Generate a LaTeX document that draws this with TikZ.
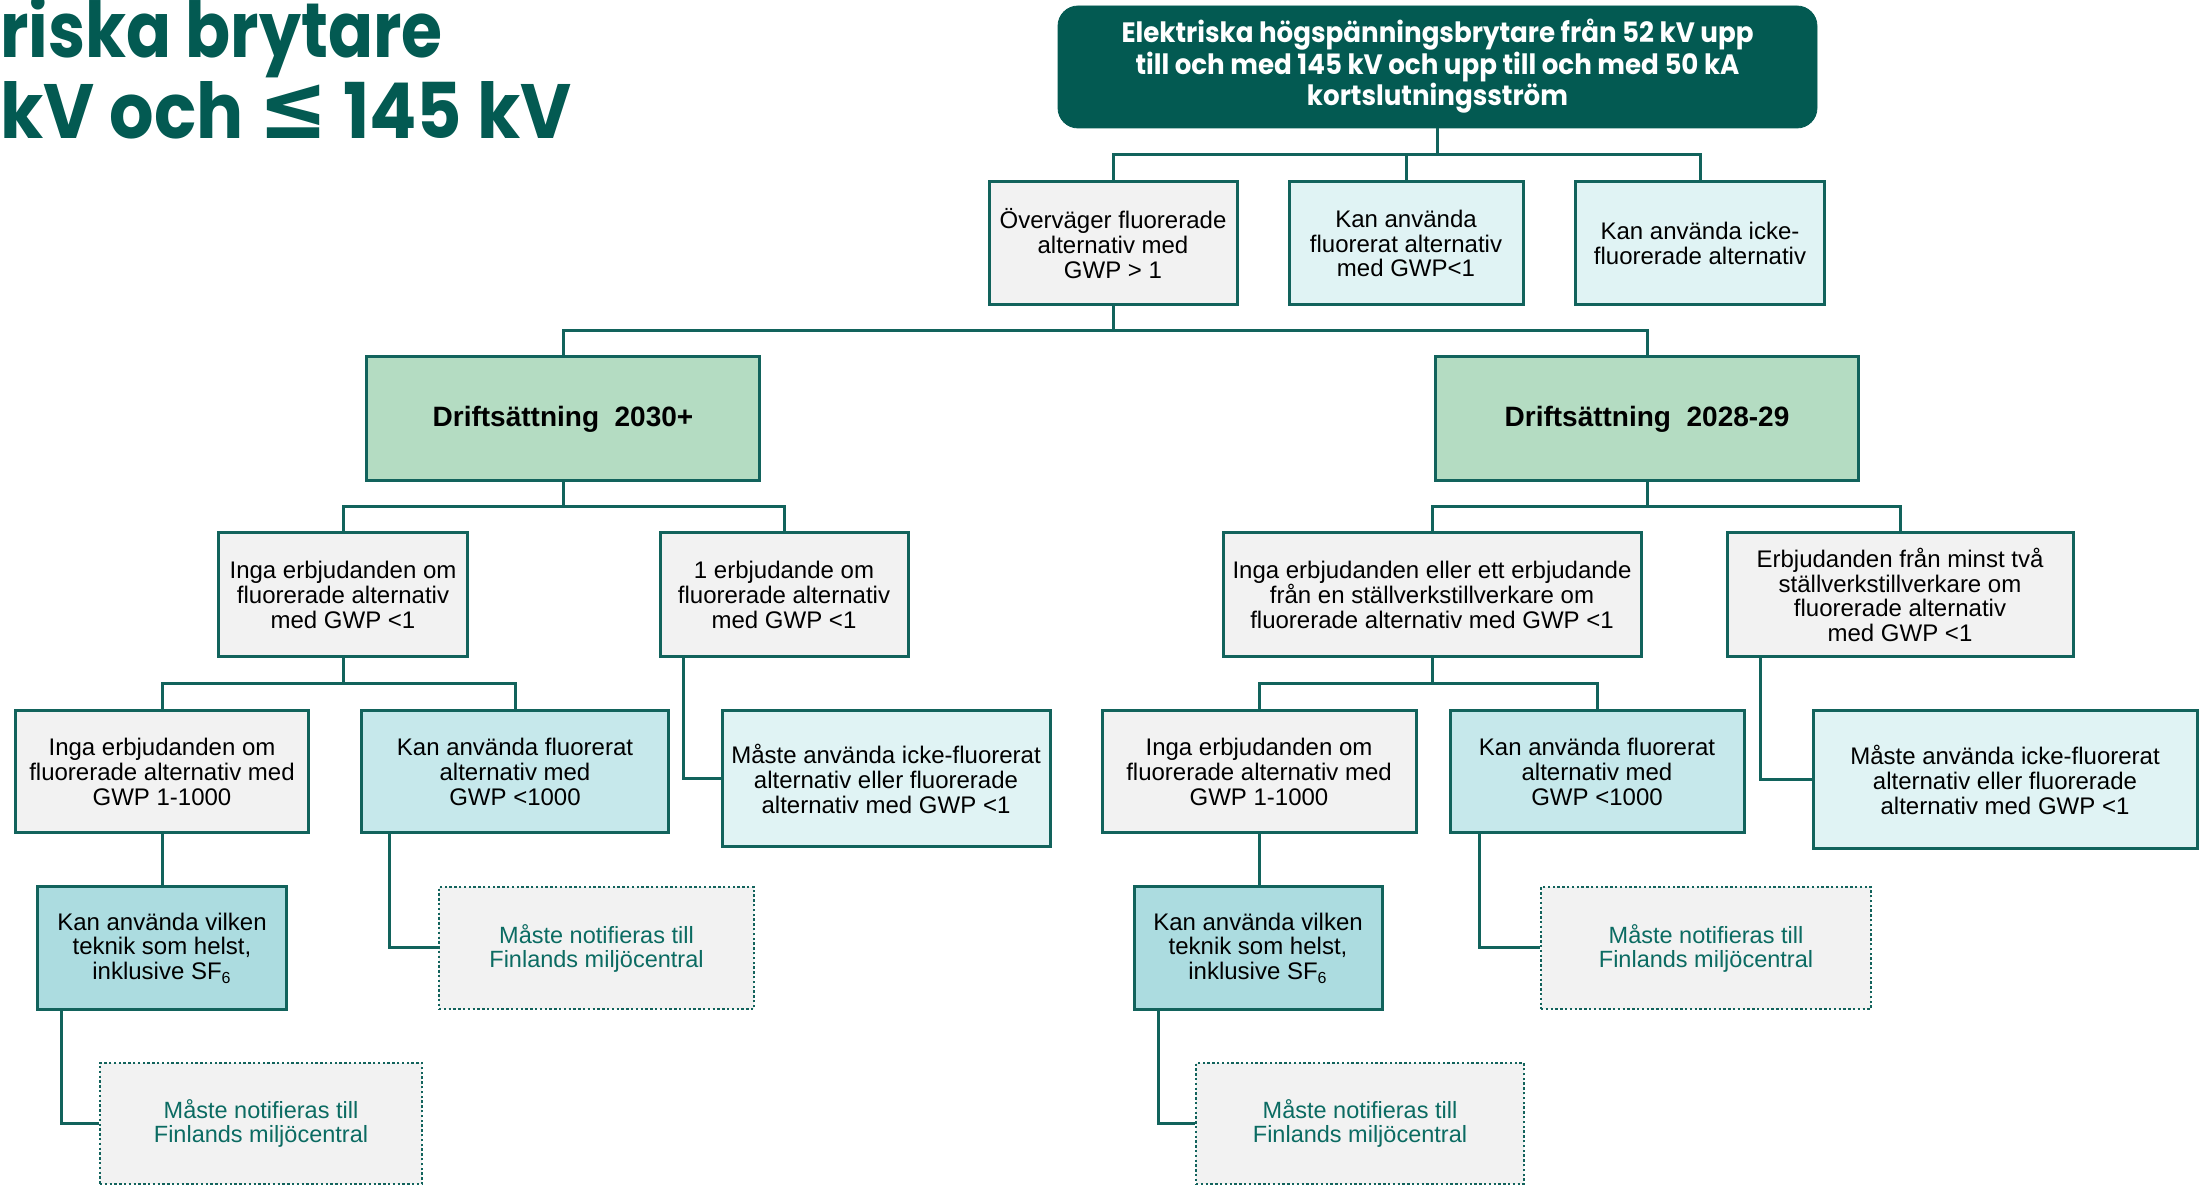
\documentclass[tikz,border=0pt]{standalone}
\usepackage{fontspec}
\usepackage{graphicx}
\setmainfont{Liberation Sans}
\newfontfamily\gothic{Poppins}
\newfontfamily\dejavu{DejaVu Sans}
\usetikzlibrary{calc}
\definecolor{tealdark}{HTML}{035A52}
\definecolor{lineteal}{HTML}{12635C}
\definecolor{greyfill}{HTML}{F2F2F2}
\definecolor{cyanlight}{HTML}{E0F3F4}
\definecolor{cyanmid}{HTML}{C6E8EB}
\definecolor{cyanstrong}{HTML}{ACDCE0}
\definecolor{greenfill}{HTML}{B4DCC2}
\definecolor{notetext}{HTML}{0B6B62}
\begin{document}
\begin{tikzpicture}[x=0.5pt,y=-0.5pt,
  box/.style={rectangle, draw=lineteal, line width=1.5pt, inner sep=0pt, align=center, font=\fontsize{12}{12.3}\selectfont, text=black},
  greybox/.style={box, fill=greyfill},
  lcbox/.style={box, fill=cyanlight},
  mcbox/.style={box, fill=cyanmid},
  scbox/.style={box, fill=cyanstrong},
  phasebox/.style={box, fill=greenfill, font=\fontsize{14}{16}\selectfont\bfseries},
  notebox/.style={rectangle, draw=lineteal, line width=1.2pt, dash pattern=on 1.2pt off 1.2pt, fill=greyfill, inner sep=0pt, align=center, text=notetext, font=\fontsize{11.75}{12}\selectfont},
  conn/.style={draw=lineteal, line width=1.5pt}
]
\useasboundingbox (0,0) rectangle (2207,1186);
\clip (0,0) rectangle (2207,1186);
\fill[white] (0,0) rectangle (2207,1186);

% title (one node, two lines; base anchor = last line)
\node[anchor=base west, inner sep=0pt, text=tealdark, align=left, font=\fontsize{38.5}{40.5}\selectfont] (title) at (0,139)
  {\resizebox{221pt}{\height}{\gothic\bfseries riska brytare}\\
   \resizebox{285.5pt}{\height}{\gothic\bfseries kV och {\dejavu\bfseries\fontsize{46}{46}\selectfont ≤} 145 kV}};

% top box
\node[rectangle, rounded corners=10pt, fill=tealdark, draw=tealdark, minimum width=379.5pt, minimum height=61pt, inner sep=0pt, text=white] (top) at (1437.5,67)
  {\raisebox{-2.5pt}{\resizebox{316pt}{\height}{\gothic\bfseries\fontsize{14}{15.5}\selectfont\begin{tabular}{@{}c@{}}Elektriska högspänningsbrytare från 52 kV upp\\till och med 145 kV och upp till och med 50 kA\\kortslutningsström\end{tabular}}}};

% level 2
\node[greybox, minimum width=124pt, minimum height=61.5pt] (A) at (1113,243.5) {Överväger fluorerade\\alternativ med\\GWP > 1};
\node[lcbox, minimum width=117pt, minimum height=61.5pt] (B) at (1406,243.5) {Kan använda\\fluorerat alternativ\\med GWP<1};
\node[lcbox, minimum width=124.5pt, minimum height=61.5pt] (C) at (1700,243.5) {Kan använda icke-\\fluorerade alternativ};

% level 3
\node[phasebox, minimum width=196.5pt, minimum height=62pt] (D) at (563,419) {Driftsättning\ \ 2030+};
\node[phasebox, minimum width=211.5pt, minimum height=62pt] (E) at (1647,419) {Driftsättning\ \ 2028-29};

% level 4
\node[greybox, minimum width=124.5pt, minimum height=62pt] (F) at (343,595) {Inga erbjudanden om\\fluorerade alternativ\\med GWP <1};
\node[greybox, minimum width=124pt, minimum height=62pt] (G) at (784,595) {1 erbjudande om\\fluorerade alternativ\\med GWP <1};
\node[greybox, minimum width=209pt, minimum height=62pt] (H) at (1432,595) {Inga erbjudanden eller ett erbjudande\\från en ställverkstillverkare om\\fluorerade alternativ med GWP <1};
\node[greybox, minimum width=173pt, minimum height=62pt] (I) at (1900,595) {Erbjudanden från minst två\\ställverkstillverkare om\\fluorerade alternativ\\med GWP <1};

% level 5
\node[greybox, minimum width=146.5pt, minimum height=61pt] (J) at (162,772) {Inga erbjudanden om\\fluorerade alternativ med\\GWP 1-1000};
\node[mcbox, minimum width=153.5pt, minimum height=61pt] (K) at (515,772) {Kan använda fluorerat\\alternativ med\\GWP <1000};
\node[lcbox, minimum width=164pt, minimum height=68pt] (L) at (886,779) {Måste använda icke-fluorerat\\alternativ eller fluorerade\\alternativ med GWP <1};
\node[greybox, minimum width=157pt, minimum height=61pt] (M) at (1259,772) {Inga erbjudanden om\\fluorerade alternativ med\\GWP 1-1000};
\node[mcbox, minimum width=147pt, minimum height=61pt] (N) at (1597,772) {Kan använda fluorerat\\alternativ med\\GWP <1000};
\node[lcbox, minimum width=192pt, minimum height=69pt] (O) at (2005,780) {Måste använda icke-fluorerat\\alternativ eller fluorerade\\alternativ med GWP <1};

% level 6
\node[scbox, minimum width=124.5pt, minimum height=61pt] (P) at (162,948) {Kan använda vilken\\teknik som helst,\\inklusive SF\textsubscript{6}};
\node[notebox, minimum width=157.5pt, minimum height=61pt] (Q) at (596.5,948) {Måste notifieras till\\Finlands miljöcentral};
\node[scbox, minimum width=124pt, minimum height=61pt] (S) at (1258,948) {Kan använda vilken\\teknik som helst,\\inklusive SF\textsubscript{6}};
\node[notebox, minimum width=165pt, minimum height=61pt] (T) at (1706,948) {Måste notifieras till\\Finlands miljöcentral};

% level 7
\node[notebox, minimum width=161pt, minimum height=60.5pt] (R) at (261,1123.5) {Måste notifieras till\\Finlands miljöcentral};
\node[notebox, minimum width=164pt, minimum height=60.5pt] (U) at (1360,1123.5) {Måste notifieras till\\Finlands miljöcentral};

% buses
\coordinate (b1) at (0,155);
\coordinate (b2) at (0,331);
\coordinate (b3) at (0,507);
\coordinate (b4) at (0,684);

\draw[conn] (top.south) -- (top.south |- b1);
\draw[conn] (A.north) |- (b1 -| C.north) -- (C.north);
\draw[conn] (B.north) -- (B.north |- b1);

\draw[conn] (A.south) -- (A.south |- b2);
\draw[conn] (D.north) |- (b2 -| E.north) -- (E.north);

\draw[conn] (D.south) -- (D.south |- b3);
\draw[conn] (F.north) |- (b3 -| G.north) -- (G.north);
\draw[conn] (E.south) -- (E.south |- b3);
\draw[conn] (H.north) |- (b3 -| I.north) -- (I.north);

\draw[conn] (F.south) -- (F.south |- b4);
\draw[conn] (J.north) |- (b4 -| K.north) -- (K.north);
\draw[conn] (H.south) -- (H.south |- b4);
\draw[conn] (M.north) |- (b4 -| N.north) -- (N.north);

\draw[conn] ($(G.south west)+(25,0)$) |- (L.west);
\draw[conn] ($(I.south west)+(35,0)$) |- (O.west);
\draw[conn] ($(K.south west)+(29,0)$) |- (Q.west);
\draw[conn] ($(N.south west)+(31,0)$) |- (T.west);
\draw[conn] (J.south) -- (J.south |- P.north);
\draw[conn] (M.south) -- (M.south |- S.north);
\draw[conn] ($(P.south west)+(25,0)$) |- (R.west);
\draw[conn] ($(S.south west)+(26,0)$) |- (U.west);
\end{tikzpicture}
\end{document}
